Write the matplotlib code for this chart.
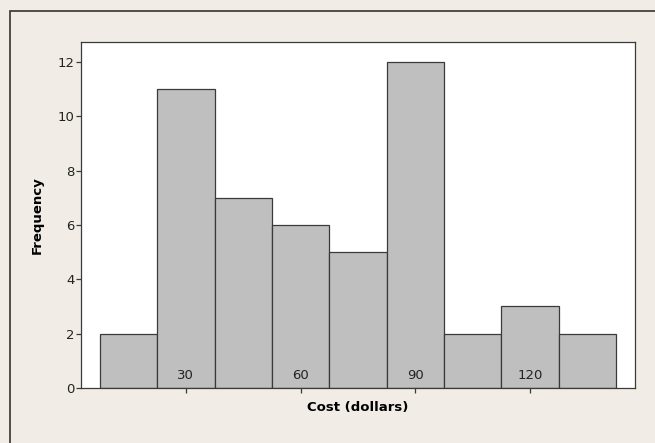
import matplotlib.pyplot as plt
from matplotlib.patches import Rectangle

# --- histogram data ---
bin_centers = [15, 30, 45, 60, 75, 90, 105, 120, 135]
frequency = [2, 11, 7, 6, 5, 12, 2, 3, 2]
bin_width = 15
x_ticks = [30, 60, 90, 120]
y_ticks = [0, 2, 4, 6, 8, 10, 12]

fig = plt.figure(figsize=(6.55, 4.43), dpi=100)
fig.patch.set_facecolor('#f1ede6')

# outer frame (cropped on right / bottom like the original)
frame = Rectangle((10 / 655, -0.1), 1.2, (443 - 11) / 443 + 0.1,
                  transform=fig.transFigure, fill=False,
                  edgecolor='#333333', linewidth=1.2)
fig.patches.append(frame)

ax = fig.add_axes([81 / 655, 55 / 443, 554 / 655, 346 / 443])
ax.set_facecolor('white')

ax.bar(bin_centers, frequency, width=bin_width, color='#bfbfbf',
       edgecolor='#3a3a3a', linewidth=0.9)

ax.set_xlim(2.6, 147.4)
ax.set_ylim(0, 12.73)
ax.set_xticks(x_ticks)
ax.set_yticks(y_ticks)

for s in ax.spines.values():
    s.set_color('#3a3a3a')
    s.set_linewidth(0.9)

ax.tick_params(axis='x', direction='out', length=3.5, width=0.9,
               color='#3a3a3a', labelsize=9.5, labelcolor='#222222', pad=-17)
ax.tick_params(axis='y', direction='out', length=3.5, width=0.9,
               color='#3a3a3a', labelsize=9.5, labelcolor='#222222', pad=1)

ax.set_xlabel('Cost (dollars)', fontsize=9.5, fontweight='bold', labelpad=6)
ax.set_ylabel('Frequency', fontsize=9.5, fontweight='bold', labelpad=10)

fig.savefig('out.png', dpi=100, facecolor=fig.get_facecolor())
